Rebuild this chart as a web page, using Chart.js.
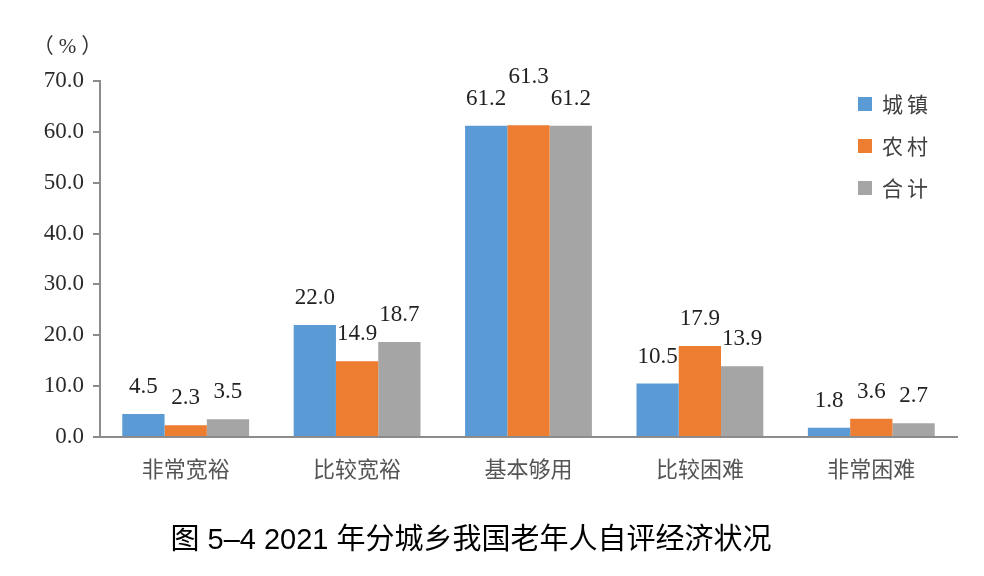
<!DOCTYPE html>
<html>
<head>
<meta charset="utf-8">
<script src="https://cdn.jsdelivr.net/npm/chart.js@4.4.1/dist/chart.umd.min.js"></script>
<style>
html,body{margin:0;padding:0;background:#fff;}
#wrap{width:984px;height:576px;position:relative;}
</style>
</head>
<body>
<div id="wrap"><canvas id="c" width="984" height="576"></canvas></div>
<script>
const categories = ['非常宽裕', '比较宽裕', '基本够用', '比较困难', '非常困难'];
const seriesNames = ['城镇', '农村', '合计'];
const urban = [4.5, 22.0, 61.2, 10.5, 1.8];
const rural = [2.3, 14.9, 61.3, 17.9, 3.6];
const total = [3.5, 18.7, 61.2, 13.9, 2.7];
const yTicks = [0, 10, 20, 30, 40, 50, 60, 70];
const unitLabel = '（%）';
const chartTitle = '图 5–4 2021 年分城乡我国老年人自评经济状况';

const colors = ['#5B9BD5', '#ED7D31', '#A5A5A5'];
const AXIS = '#8c8c8c';

const labelPlugin = {
  id: 'barLabels',
  afterDatasetsDraw(chart) {
    const ctx = chart.ctx;
    ctx.save();
    ctx.font = '23px "Liberation Serif"';
    ctx.fillStyle = '#222';
    ctx.textAlign = 'center';
    ctx.textBaseline = 'middle';
    const n = chart.data.labels.length;
    for (let i = 0; i < n; i++) {
      let prev = null;
      chart.data.datasets.forEach((ds, di) => {
        const el = chart.getDatasetMeta(di).data[i];
        const txt = ds.data[i].toFixed(1);
        const w = ctx.measureText(txt).width;
        let y = el.y - 27;
        if (prev && Math.abs(el.x - prev.x) < (w + prev.w) / 2 + 4 && Math.abs(y - prev.y) < 14) {
          y = prev.y - 22;
        }
        ctx.fillText(txt, el.x, y);
        prev = {x: el.x, y: y, w: w};
      });
    }
    ctx.restore();
  }
};

const decorPlugin = {
  id: 'decor',
  afterDraw(chart) {
    const ctx = chart.ctx;
    ctx.save();
    // unit label
    ctx.font = '21px "Liberation Serif", "Noto Sans CJK SC"';
    ctx.fillStyle = '#333';
    ctx.textAlign = 'center';
    ctx.textBaseline = 'middle';
    try { ctx.letterSpacing = '5px'; } catch (e) {}
    ctx.fillText(unitLabel, 70, 47);
    try { ctx.letterSpacing = '0px'; } catch (e) {}
    // legend
    ctx.textAlign = 'left';
    ctx.font = '21px "Noto Sans CJK SC"';
    try { ctx.letterSpacing = '4px'; } catch (e) {}
    chart.data.datasets.forEach((ds, di) => {
      const y = 104 + di * 42;
      ctx.fillStyle = ds.backgroundColor;
      ctx.fillRect(858, y - 7, 14, 14);
      ctx.fillStyle = '#404040';
      ctx.fillText(ds.label, 882, y);
    });
    try { ctx.letterSpacing = '0px'; } catch (e) {}
    // title
    ctx.textAlign = 'center';
    ctx.fillStyle = '#000';
    ctx.font = '29px "Liberation Sans", "Noto Sans CJK SC"';
    ctx.fillText(chartTitle, 471, 541);
    ctx.restore();
  }
};

new Chart(document.getElementById('c'), {
  type: 'bar',
  data: {
    labels: categories,
    datasets: [
      {label: seriesNames[0], data: urban, backgroundColor: colors[0]},
      {label: seriesNames[1], data: rural, backgroundColor: colors[1]},
      {label: seriesNames[2], data: total, backgroundColor: colors[2]}
    ]
  },
  options: {
    responsive: false,
    animation: false,
    devicePixelRatio: 1,
    layout: {padding: {top: 81, left: 0, right: 27, bottom: 59}},
    datasets: {bar: {categoryPercentage: 0.74, barPercentage: 1.0, borderWidth: 0}},
    plugins: {legend: {display: false}, tooltip: {enabled: false}, title: {display: false}},
    scales: {
      x: {
        grid: {display: false, drawTicks: false},
        border: {display: true, color: AXIS, width: 2},
        ticks: {color: '#555', padding: 18, font: {family: '"Noto Sans CJK SC"', size: 22}, maxRotation: 0},
        afterFit(s) { s.height = 80; }
      },
      y: {
        min: 0, max: 70,
        afterBuildTicks(s) { s.ticks = yTicks.map(v => ({value: v})); },
        grid: {drawOnChartArea: false, drawTicks: true, tickLength: 7, color: AXIS, lineWidth: 2},
        border: {display: true, color: AXIS, width: 2},
        ticks: {color: '#2a2a2a', padding: 9, font: {family: '"Liberation Serif"', size: 23},
          callback: v => Number(v).toFixed(1)},
        afterFit(s) { s.width = 100; }
      }
    }
  },
  plugins: [labelPlugin, decorPlugin]
});
</script>
</body>
</html>
